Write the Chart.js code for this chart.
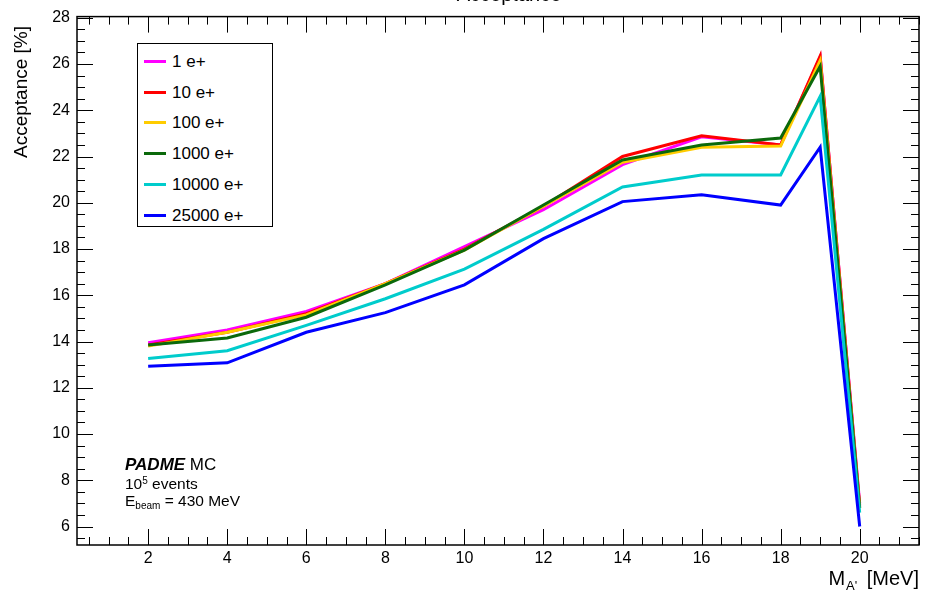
<!DOCTYPE html>
<html>
<head>
<meta charset="utf-8">
<script src="https://cdn.jsdelivr.net/npm/chart.js@4/dist/chart.umd.min.js"></script>
<style>
html,body{margin:0;padding:0;background:#fff;}
#wrap{position:relative;width:935px;height:593px;overflow:hidden;font-family:"Liberation Sans",Arial,Helvetica,sans-serif;color:#000;}
#c{position:absolute;left:0;top:0;}
.txt{position:absolute;white-space:nowrap;line-height:1;}
#legend{position:absolute;left:137px;top:43px;width:136px;height:184px;border:1px solid #000;background:#fff;box-sizing:border-box;}
.lrow{position:absolute;left:0;height:20px;}
.lline{position:absolute;left:6px;top:9px;width:22px;height:3px;}
.ltext{position:absolute;left:34px;top:1px;font-size:17px;white-space:nowrap;}
</style>
</head>
<body>
<div id="wrap">
<canvas id="c" width="935" height="593"></canvas>
<div class="txt" id="title" style="left:509px;top:-16px;font-size:20px;transform:translateX(-50%);">Acceptance</div>
<div class="txt" id="ytitle" style="left:11px;top:15px;font-size:19px;transform-origin:0 0;transform:translate(0px,143px) rotate(-90deg);">Acceptance [%]</div>
<div class="txt" id="xtitle" style="right:16px;top:568px;font-size:20px;">M<sub style="font-size:13px;vertical-align:-5px;margin:0 4px 0 1px;">A'</sub> [MeV]</div>
<div class="txt" style="left:125px;top:456px;font-size:17px;"><b><i>PADME</i></b> MC</div>
<div class="txt" style="left:125px;top:476px;font-size:15.5px;">10<sup style="font-size:10px;vertical-align:5px;">5</sup> events</div>
<div class="txt" style="left:125px;top:493px;font-size:15.5px;">E<sub style="font-size:10px;vertical-align:-3px;">beam</sub> = 430 MeV</div>
<div id="legend"></div>
</div>
<script>
// ---- data ----
const masses = [2, 4, 6, 8, 10, 12, 14, 16, 18, 19, 20];
const acc1e     = [13.95, 14.50, 15.30, 16.50, 18.10, 19.70, 21.65, 22.85, 22.50, 26.30, 7.00];
const acc10e    = [13.85, 14.40, 15.20, 16.50, 18.00, 19.85, 22.00, 22.90, 22.50, 26.35, 6.90];
const acc100e   = [13.80, 14.40, 15.15, 16.50, 17.95, 19.85, 21.75, 22.40, 22.45, 26.15, 6.80];
const acc1000e  = [13.85, 14.15, 15.05, 16.45, 17.95, 19.90, 21.85, 22.50, 22.80, 25.90, 6.80];
const acc10000e = [13.27, 13.60, 14.70, 15.85, 17.13, 18.85, 20.68, 21.20, 21.20, 24.60, 6.60];
const acc25000e = [12.93, 13.08, 14.40, 15.25, 16.45, 18.45, 20.05, 20.35, 19.90, 22.40, 6.00];
const seriesNames = ['1 e+', '10 e+', '100 e+', '1000 e+', '10000 e+', '25000 e+'];
const seriesColors = ['#ff00ff', '#ff0000', '#ffcc00', '#0b690b', '#00cccc', '#0000ff'];
const xTickLabels = [2, 4, 6, 8, 10, 12, 14, 16, 18, 20];
const yTickLabels = [6, 8, 10, 12, 14, 16, 18, 20, 22, 24, 26, 28];

const allSeries = [acc1e, acc10e, acc100e, acc1000e, acc10000e, acc25000e];

const datasets = allSeries.map((vals, i) => ({
  label: seriesNames[i],
  data: masses.map((m, j) => ({x: m, y: vals[j]})),
  borderColor: seriesColors[i],
  backgroundColor: seriesColors[i],
  borderWidth: 3,
  pointRadius: 0,
  tension: 0,
  fill: false,
  order: allSeries.length - i
}));

const frameTicks = {
  id: 'frameTicks',
  afterDatasetsDraw(chart) {
    const ctx = chart.ctx, a = chart.chartArea, x = chart.scales.x, y = chart.scales.y;
    ctx.save();
    ctx.strokeStyle = '#000';
    ctx.lineWidth = 1;
    ctx.beginPath();
    for (let k = Math.ceil(x.min * 2); k <= Math.floor(x.max * 2); k++) {
      const v = k / 2;
      const px = Math.round(x.getPixelForValue(v)) + 0.5;
      const L = (k % 4 === 0) ? 16 : 8;
      ctx.moveTo(px, a.bottom); ctx.lineTo(px, a.bottom - L);
      ctx.moveTo(px, a.top); ctx.lineTo(px, a.top + L);
    }
    for (let k = Math.ceil(y.min * 2); k <= Math.floor(y.max * 2); k++) {
      const v = k / 2;
      const py = Math.round(y.getPixelForValue(v)) + 0.5;
      const L = (k % 4 === 0) ? 16 : 8;
      ctx.moveTo(a.left, py); ctx.lineTo(a.left + L, py);
      ctx.moveTo(a.right, py); ctx.lineTo(a.right - L, py);
    }
    ctx.stroke();
    ctx.lineWidth = 1.5;
    ctx.strokeRect(a.left, a.top, a.right - a.left, a.bottom - a.top);
    ctx.restore();
  }
};

const chart = new Chart(document.getElementById('c'), {
  type: 'line',
  data: {datasets},
  options: {
    responsive: false,
    animation: false,
    devicePixelRatio: 1,
    layout: {padding: {left: 0, right: 16, top: 14, bottom: 0}},
    plugins: {legend: {display: false}, tooltip: {enabled: false}, title: {display: false}},
    scales: {
      x: {
        type: 'linear', min: 0.2, max: 21.5,
        grid: {display: false, drawTicks: false},
        border: {display: false},
        afterBuildTicks: s => { s.ticks = xTickLabels.map(v => ({value: v})); },
        afterFit: s => { s.height = 48; },
        ticks: {padding: 4, color: '#000', font: {family: '"Liberation Sans", Arial, sans-serif', size: 16}, maxRotation: 0, autoSkip: false}
      },
      y: {
        type: 'linear', min: 5.2, max: 28.05,
        grid: {display: false, drawTicks: false},
        border: {display: false},
        afterBuildTicks: s => { s.ticks = yTickLabels.map(v => ({value: v})); },
        afterFit: s => { s.width = 77; },
        ticks: {padding: 7, color: '#000', font: {family: '"Liberation Sans", Arial, sans-serif', size: 16}, autoSkip: false}
      }
    }
  },
  plugins: [frameTicks]
});

// legend built from the chart's datasets
const leg = document.getElementById('legend');
chart.data.datasets.forEach((ds, i) => {
  const row = document.createElement('div');
  row.className = 'lrow';
  row.style.top = (7 + i * 30.7) + 'px';
  row.innerHTML = '<div class="lline" style="background:' + ds.borderColor + '"></div><div class="ltext">' + ds.label + '</div>';
  leg.appendChild(row);
});
</script>
</body>
</html>
